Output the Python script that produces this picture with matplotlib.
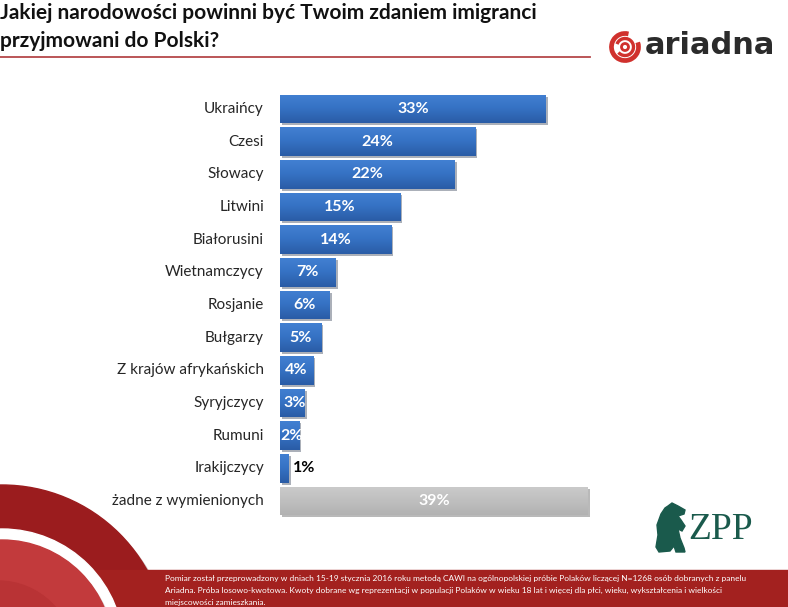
import numpy as np
import matplotlib
matplotlib.use("Agg")
import matplotlib.pyplot as plt
from matplotlib import patches, patheffects
from matplotlib.colors import LinearSegmentedColormap

categories = ["Ukraińcy", "Czesi", "Słowacy", "Litwini", "Białorusini", "Wietnamczycy",
              "Rosjanie", "Bułgarzy", "Z krajów afrykańskich", "Syryjczycy", "Rumuni",
              "Irakijczycy", "żadne z wymienionych"]
values = [33.0, 24.2, 21.7, 14.9, 13.8, 6.9, 6.2, 5.1, 4.1, 3.1, 2.4, 1.1, 38.2]
value_labels = ["33%", "24%", "22%", "15%", "14%", "7%", "6%", "5%", "4%", "3%", "2%", "1%", "39%"]
is_none = [False] * 12 + [True]

title = "Jakiej narodowości powinni być Twoim zdaniem imigranci\nprzyjmowani do Polski?"
footer_lines = [
    "Pomiar został przeprowadzony w dniach 15-19 stycznia 2016 roku metodą CAWI na ogólnopolskiej próbie Polaków liczącej N=1268 osób dobranych z panelu",
    "Ariadna. Próba losowo-kwotowa. Kwoty dobrane wg reprezentacji w populacji Polaków w wieku 18 lat i więcej dla płci, wieku, wykształcenia i wielkości",
    "miejscowości zamieszkania.",
]

W, H = 788, 607
fig = plt.figure(figsize=(W / 100, H / 100), dpi=100)
fig.patch.set_facecolor("white")

def fx(x):
    return x / W

def fy(y):
    return 1 - y / H

# ---- bottom-left decoration ----
deco = fig.add_axes([0, 0, 1, 1], zorder=0)
deco.set_xlim(0, W)
deco.set_ylim(H, 0)
deco.axis("off")
cx, cy = 2, 651
deco.add_patch(patches.Circle((cx, cy), 166, color="#9b1c1e", zorder=1,
                              path_effects=[patheffects.withSimplePatchShadow(offset=(3, -3), alpha=0.25)]))
deco.add_patch(patches.Circle((cx, cy), 122, color="white", zorder=2))
deco.add_patch(patches.Circle((cx, cy), 111, color="#c23a3c", zorder=3,
                              path_effects=[patheffects.withSimplePatchShadow(offset=(2, -2), alpha=0.2)]))
deco.add_patch(patches.Circle((cx - 4, cy + 6), 76, color="#b93335", zorder=4))
deco.add_patch(patches.Rectangle((0, 570), W, H - 570, color="#a3211f", zorder=1.5))
# title underline
deco.plot([0, 590], [57, 57], color="#b5484a", lw=1.3, zorder=5)

# ariadna logo icon
deco.add_patch(patches.Arc((625, 47), 27, 27, theta1=-20, theta2=285,
                           color="#d0312d", lw=3.4, zorder=5))
deco.add_patch(patches.Arc((625, 47), 17, 17, theta1=200, theta2=500,
                           color="#d0312d", lw=2.4, zorder=5))
deco.add_patch(patches.Circle((625, 47), 3.5, fill=False, ec="#d0312d", lw=2.0, zorder=5))

# ZPP bear
bear = [(668, 506), (672, 503), (678, 506), (685, 510), (684, 514), (678, 516),
        (681, 520), (685, 526), (682, 531), (678, 529), (680, 538), (684, 548),
        (685, 552), (676, 552), (674, 546), (670, 551), (659, 552), (656, 547),
        (658, 535), (657, 525), (661, 514), (665, 508)]
deco.add_patch(patches.Polygon(bear, closed=True, color="#1a5a4c", zorder=5))

# ---- main chart ----
ax_left, ax_right = 280, 600
ax_top, ax_bottom = 92.6, 517.4
ax = fig.add_axes([fx(ax_left), fy(ax_bottom), (ax_right - ax_left) / W,
                   (ax_bottom - ax_top) / H], zorder=2)
ax.patch.set_alpha(0)
n = len(categories)
ypos = np.arange(n)
colors = ["#bfbfbf" if g else "#3169b8" for g in is_none]
bars = ax.barh(ypos, values, height=0.88, color=colors, zorder=2)

blue_cmap = LinearSegmentedColormap.from_list("b", ["#4280d2", "#3571c3", "#2a5ca6"])
gray_cmap = LinearSegmentedColormap.from_list("g", ["#cbcbcb", "#bfbfbf", "#b2b2b2"])
grad = np.linspace(0, 1, 64).reshape(-1, 1)
for b, g in zip(bars, is_none):
    b.set_path_effects([patheffects.SimplePatchShadow(offset=(1.5, -1.5), alpha=0.35),
                        patheffects.Normal()])
    bb = b.get_bbox()
    im = ax.imshow(grad, cmap=gray_cmap if g else blue_cmap, aspect="auto",
                   extent=(bb.x0, bb.x1, bb.y1, bb.y0), zorder=3, interpolation="bilinear")
    im.set_clip_path(b)

ax.set_xlim(0, (ax_right - ax_left) / 8.06)
ax.set_ylim(n - 0.5, -0.5)
ax.axis("off")

for yv, (v, lab, g) in enumerate(zip(values, value_labels, is_none)):
    if v < 1.5:
        ax.text(v + 0.5, yv, lab, ha="left", va="center", fontsize=11.5,
                fontweight="bold", color="black", family="Lato", zorder=5)
    else:
        ax.text(v / 2 + (0.3 if v < 3.5 else 0), yv, lab, ha="center", va="center",
                fontsize=11.5, fontweight="bold", color="white", family="Lato", zorder=5)
    ax.text(-2.0, yv, categories[yv], ha="right", va="center", fontsize=11.0,
            color="#262626", family="Lato", zorder=5)

# ---- texts ----
fig.text(fx(0), fy(3), title, ha="left", va="top", fontsize=15, fontweight="bold",
         family="Lato", color="#111111", linespacing=1.5)
fig.text(fx(645), fy(46), "ariadna", ha="left", va="center", fontsize=22,
         fontweight="bold", family="DejaVu Sans", color="#2b2b2b")
fig.text(fx(688), fy(530), "ZPP", ha="left", va="center", fontsize=27,
         family="Liberation Serif", color="#1a5a4c")

for i, line in enumerate(footer_lines):
    fig.text(fx(165), fy(578 + 12.5 * i), line, ha="left", va="center", fontsize=6.0,
             family="Lato", color="white", zorder=10)

fig.savefig("out.png", dpi=100)
